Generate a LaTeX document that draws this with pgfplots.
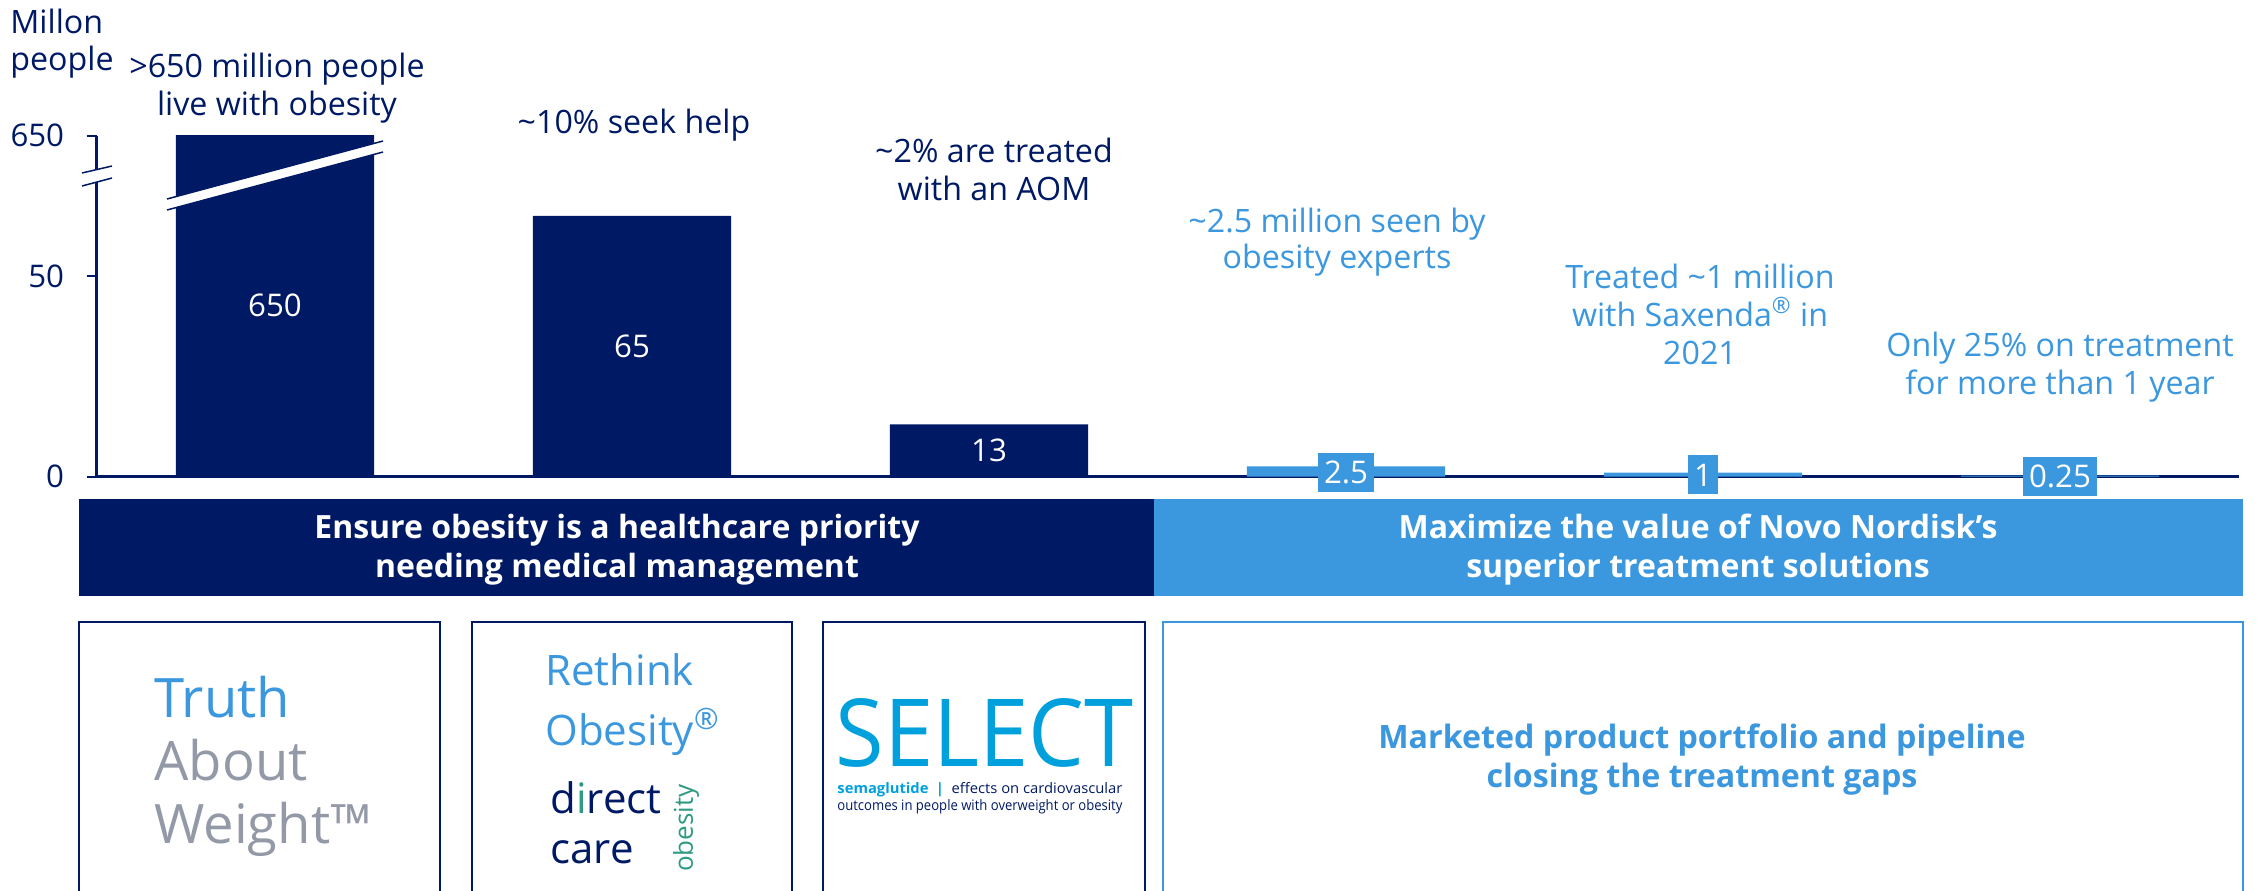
\documentclass[border=0pt]{standalone}
\usepackage{pgfplots}
\pgfplotsset{compat=1.18}
\usepackage{fontspec}
\setmainfont{Open Sans}

\definecolor{navy}{HTML}{001965}
\definecolor{sky}{HTML}{3B97DE}
\definecolor{slate}{HTML}{9399A6}
\definecolor{teal2}{HTML}{2E9A82}
\definecolor{logo}{HTML}{00A0DC}
\newcommand{\fs}[1]{\fontsize{#1pt}{#1pt}\selectfont}

\begin{document}
\begin{tikzpicture}
\useasboundingbox (0,0) rectangle (1131pt,-445pt);
\clip (0,0) rectangle (1131pt,-445pt);

\begin{axis}[
    at={(48.25pt,-238.25pt)}, anchor=south west,
    scale only axis, width=1071pt, height=170.5pt,
    xmin=-0.5, xmax=5.5, ymin=0, ymax=85,
    axis x line*=bottom, axis y line*=left,
    axis line style={navy, line width=1.2pt, -},
    xtick=\empty,
    ytick={0,50,85}, yticklabels={0,50,650},
    tick align=outside, major tick length=5pt,
    ytick style={navy, line width=1pt},
    yticklabel style={font=\fs{15.6}, text=navy, xshift=-7.7pt},
    /pgf/number format/assume math mode=true,
]
% the 650 bar is cut at the top of the axis (broken scale)
\addplot[ybar, bar width=0.555, fill=navy, draw=none] coordinates {(0,650) (1,65) (2,13)};
\addplot[ybar, bar width=0.555, fill=sky, draw=none] coordinates {(3,2.5) (4,1) (5,0.25)};

% value labels
\addplot[draw=none, nodes near coords, point meta=explicit symbolic,
    every node near coord/.style={anchor=center, text=white, font=\fs{15.6}}]
    coordinates {(0,42.7)[650] (1,32.5)[65] (2,6.6)[13]};
\addplot[draw=none, nodes near coords, point meta=explicit symbolic,
    every node near coord/.style={anchor=center, text=white, fill=sky,
        inner xsep=3pt, minimum height=19.5pt, font=\fs{15.6}}]
    coordinates {(3,1)[2.5] (4,0.4)[1] (5,0)[0.25]};
\end{axis}

\begin{scope}[x=0.5pt, y=-0.5pt,
    ann/.style={anchor=base, inner sep=0, font=\fs{16.1}},
    banner/.style={anchor=base, inner sep=0, text=white, font=\bfseries\fs{16}}]
% axis break and bar break
\fill[white] (82,173)--(112,166)--(112,178)--(82,186)--cycle;
\draw[navy, line width=0.75pt] (82,173)--(112,166) (82,186)--(112,178);
\fill[white] (167,199)--(383,141)--(383,152)--(167,210)--cycle;
\draw[navy, line width=0.75pt] (167,199)--(383,141) (167,210)--(383,152);

% y label
\node[ann, anchor=base west, text=navy] at (10,33) {Millon};
\node[ann, anchor=base west, text=navy] at (10,70) {people};

% annotations
\node[ann, text=navy] at (277,77) {>650 million people};
\node[ann, text=navy] at (277,115) {live with obesity};
\node[ann, text=navy] at (634,133) {\textasciitilde10\% seek help};
\node[ann, text=navy] at (994,162) {\textasciitilde2\% are treated};
\node[ann, text=navy] at (994,200) {with an AOM};
\node[ann, text=sky] at (1337,232) {\textasciitilde2.5 million seen by};
\node[ann, text=sky] at (1337,268) {obesity experts};
\node[ann, text=sky] at (1700,288) {Treated \textasciitilde1 million};
\node[ann, text=sky] at (1700,326) {with Saxenda\textsuperscript{®} in};
\node[ann, text=sky] at (1700,364) {2021};
\node[ann, text=sky] at (2060,356) {Only 25\% on treatment};
\node[ann, text=sky] at (2060,394) {for more than 1 year};

% banners
\fill[navy] (79,499) rectangle (1154,596);
\fill[sky] (1154,499) rectangle (2243,596);
\node[banner] at (617,538) {Ensure obesity is a healthcare priority};
\node[banner] at (617,577) {needing medical management};
\node[banner] at (1698,538) {Maximize the value of Novo Nordisk’s};
\node[banner] at (1698,577) {superior treatment solutions};

% boxes
\draw[navy, line width=1pt] (79,900)--(79,622)--(440,622)--(440,900);
\draw[navy, line width=1pt] (472,900)--(472,622)--(792,622)--(792,900);
\draw[navy, line width=1pt] (823,900)--(823,622)--(1145,622)--(1145,900);
\draw[sky, line width=1.2pt] (1163,900)--(1163,622)--(2243,622)--(2243,900);

\node[anchor=base west, inner sep=0, text=sky, font=\fs{27.2}] at (154,717) {Truth};
\node[anchor=base west, inner sep=0, text=slate, font=\fs{27.2}] at (154,780) {About};
\node[anchor=base west, inner sep=0, text=slate, font=\fs{27.2}] at (154,843) {Weight™};

\node[anchor=base west, inner sep=0, text=sky, font=\fs{21}] at (545,685) {Rethink};
\node[anchor=base west, inner sep=0, text=sky, font=\fs{21}] at (545,745) {Obesity\textsuperscript{®}};
\node[anchor=base west, inner sep=0, text=navy, font=\fs{21}] at (550,813) {d\textcolor{teal2}{i}rect};
\node[anchor=base west, inner sep=0, text=navy, font=\fs{21}] at (550,863) {care};
\node[rotate=90, inner sep=0, text=teal2, font=\fs{13}] at (686,828) {obesity};

\node[anchor=south west, inner sep=0, text=logo] at (835,768)
    {\resizebox{149pt}{34pt}{\fs{40}SELECT}};
\node[anchor=base west, inner sep=0] at (837,793)
    {\resizebox{142.5pt}{\height}{\fs{7.2}\textcolor{logo}{\bfseries semaglutide\enspace|}\enspace\textcolor{navy}{effects on cardiovascular}}};
\node[anchor=base west, inner sep=0, text=navy] at (837,810)
    {\resizebox{142.5pt}{\height}{\fs{7.2}outcomes in people with overweight or obesity}};

\node[banner, text=sky, font=\bfseries\fs{16.1}] at (1702,748) {Marketed product portfolio and pipeline};
\node[banner, text=sky, font=\bfseries\fs{16.1}] at (1702,787) {closing the treatment gaps};
\end{scope}
\end{tikzpicture}
\end{document}
